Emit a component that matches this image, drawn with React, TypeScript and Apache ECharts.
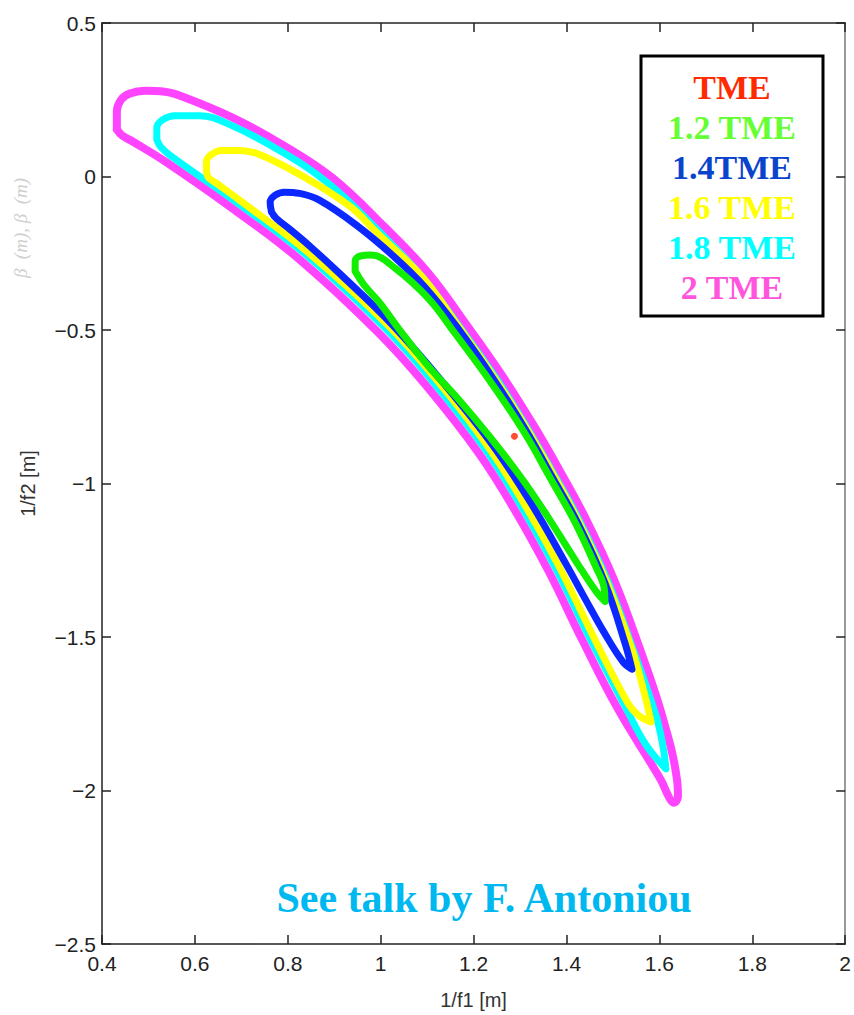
import React, { useEffect, useRef } from "react";
import * as echarts from "echarts";

const W = 854;
const H = 1015;

// axis ticks
const xTicks = [0.4, 0.6, 0.8, 1, 1.2, 1.4, 1.6, 1.8, 2];
const xTickLabels = ["0.4", "0.6", "0.8", "1", "1.2", "1.4", "1.6", "1.8", "2"];
const yTicks = [0.5, 0, -0.5, -1, -1.5, -2, -2.5];
const yTickLabels = ["0.5", "0", "\u22120.5", "\u22121", "\u22121.5", "\u22122", "\u22122.5"];

// legend labels & colours
const legendLabels = ["TME", "1.2 TME", "1.4TME", "1.6 TME", "1.8 TME", "2 TME"];
const legendColors = ["#ff2a00", "#66ff33", "#0a44cc", "#ffff00", "#00ffff", "#ff55dd"];

// contour at 2 TME (closed loop: 1/f1, 1/f2)
const contour2TME: number[][] = [
  [0.432, 0.153], [0.432, 0.211], [0.441, 0.25], [0.46, 0.27], [0.492, 0.279], [0.535, 0.276],
  [0.574, 0.26], [0.681, 0.192], [0.788, 0.104], [0.895, -0.003], [1.009, -0.165], [1.103, -0.315],
  [1.181, -0.475], [1.26, -0.645], [1.329, -0.81], [1.387, -0.962], [1.44, -1.11], [1.502, -1.312],
  [1.556, -1.53], [1.605, -1.751], [1.638, -1.965], [1.64, -2.02], [1.631, -2.04], [1.62, -2.02],
  [1.603, -1.965], [1.511, -1.735], [1.434, -1.51], [1.363, -1.29], [1.292, -1.095], [1.213, -0.905],
  [1.103, -0.69], [0.996, -0.51], [0.825, -0.27], [0.681, -0.104], [0.539, 0.046],
  [0.466, 0.114], [0.443, 0.134], [0.432, 0.153],
];

// contour at 1.8 TME
const contour18TME: number[][] = [
  [0.518, 0.121], [0.518, 0.159], [0.531, 0.185], [0.557, 0.198], [0.61, 0.198], [0.675, 0.169],
  [0.782, 0.085], [0.887, -0.022], [0.998, -0.181], [1.093, -0.334], [1.17, -0.49], [1.249, -0.658],
  [1.316, -0.82], [1.374, -0.972], [1.427, -1.118], [1.49, -1.322], [1.543, -1.538], [1.593, -1.757],
  [1.608, -1.858], [1.614, -1.929], [1.571, -1.851], [1.526, -1.725], [1.449, -1.5], [1.378, -1.28],
  [1.306, -1.083], [1.226, -0.89], [1.116, -0.675], [1.009, -0.493], [0.837, -0.252],
  [0.692, -0.087], [0.55, 0.065], [0.527, 0.095], [0.518, 0.121],
];

// contour at 1.6 TME
const contour16TME: number[][] = [
  [0.625, 0.017], [0.625, 0.049], [0.636, 0.072], [0.657, 0.085], [0.696, 0.085], [0.739, 0.072],
  [0.825, 0.007], [0.932, -0.095], [0.99, -0.18], [1.091, -0.33], [1.166, -0.485], [1.245, -0.655],
  [1.314, -0.82], [1.372, -0.972], [1.425, -1.12], [1.487, -1.322], [1.541, -1.54], [1.567, -1.679],
  [1.582, -1.777], [1.554, -1.754], [1.532, -1.715], [1.455, -1.49], [1.384, -1.27], [1.312, -1.074],
  [1.232, -0.882], [1.123, -0.667], [1.016, -0.485], [0.842, -0.245], [0.696, -0.077],
  [0.649, -0.025], [0.629, -0.003], [0.625, 0.017],
];

// contour at 1.4 TME
const contour14TME: number[][] = [
  [0.765, -0.116], [0.762, -0.084], [0.773, -0.061], [0.793, -0.051], [0.825, -0.055], [0.868, -0.077],
  [0.949, -0.16], [1.028, -0.26], [1.095, -0.36], [1.164, -0.49], [1.243, -0.66], [1.312, -0.825],
  [1.369, -0.978], [1.423, -1.125], [1.483, -1.325], [1.526, -1.52], [1.541, -1.605], [1.522, -1.582],
  [1.481, -1.485], [1.44, -1.375], [1.4, -1.265], [1.322, -1.06], [1.241, -0.875], [1.129, -0.662],
  [1.022, -0.478], [0.913, -0.318], [0.846, -0.225], [0.803, -0.17], [0.775, -0.136], [0.765, -0.116],
];

// contour at 1.2 TME
const contour12TME: number[][] = [
  [0.945, -0.308], [0.945, -0.275], [0.956, -0.259], [0.979, -0.256], [1.033, -0.301], [1.103, -0.398],
  [1.159, -0.509], [1.239, -0.674], [1.309, -0.833], [1.365, -0.982], [1.419, -1.128], [1.464, -1.274],
  [1.481, -1.339], [1.483, -1.384], [1.464, -1.352], [1.425, -1.264], [1.357, -1.102], [1.303, -0.982],
  [1.234, -0.846], [1.166, -0.723], [1.103, -0.619], [1.039, -0.496], [0.996, -0.408], [0.964, -0.353],
  [0.945, -0.308],
];

// nominal TME point
const pointTME: number[][] = [[1.288, -0.846]];

const contours = [
  { name: "2 TME", data: contour2TME, color: "#ff44ff", width: 8 },
  { name: "1.8 TME", data: contour18TME, color: "#00ffff", width: 7 },
  { name: "1.6 TME", data: contour16TME, color: "#ffff00", width: 7 },
  { name: "1.4TME", data: contour14TME, color: "#0a28ff", width: 7 },
  { name: "1.2 TME", data: contour12TME, color: "#11ee00", width: 7 },
];

function fmt(ticks: number[], labels: string[]) {
  return (v: number) => {
    const i = ticks.findIndex((t) => Math.abs(t - v) < 1e-6);
    return i >= 0 ? labels[i] : "";
  };
}

export default function App() {
  const ref = useRef<HTMLDivElement>(null);
  useEffect(() => {
    document.body.style.margin = "0";
    const chart = echarts.init(ref.current!, null, { renderer: "svg", width: W, height: H });
    const sans = '"Liberation Sans Narrow", "Liberation Sans", Arial, sans-serif';
    const axisFont = { fontFamily: sans, fontSize: 21, color: "#222" };
    const axisLine = { show: true, onZero: false, lineStyle: { color: "#222", width: 1.5 } };
    const tick = { show: true, inside: true, length: 9, lineStyle: { color: "#222", width: 1.5 } };
    const option: any = {
      animation: false,
      backgroundColor: "#fff",
      grid: { left: 102, top: 23, right: 6, bottom: 67, containLabel: false },
      xAxis: [
        {
          type: "value", min: 0.4, max: 2, interval: 0.2, position: "bottom",
          axisLine, axisTick: tick, splitLine: { show: false },
          axisLabel: { ...axisFont, margin: 9, formatter: fmt(xTicks, xTickLabels) },
          name: "1/f1 [m]", nameLocation: "middle", nameGap: 46,
          nameTextStyle: { fontFamily: sans, fontSize: 20, color: "#333" },
        },
        {
          type: "value", min: 0.4, max: 2, interval: 0.2, position: "top",
          axisLine, axisTick: tick, splitLine: { show: false }, axisLabel: { show: false },
        },
      ],
      yAxis: [
        {
          type: "value", min: -2.5, max: 0.5, interval: 0.5, position: "left",
          axisLine, axisTick: tick, splitLine: { show: false },
          axisLabel: { ...axisFont, margin: 6, formatter: fmt(yTicks, yTickLabels) },
          name: "1/f2 [m]", nameLocation: "middle", nameGap: 64, nameRotate: 90,
          nameTextStyle: { fontFamily: sans, fontSize: 20, color: "#333" },
        },
        {
          type: "value", min: -2.5, max: 0.5, interval: 0.5, position: "right",
          axisLine: { show: true, onZero: false, lineStyle: { color: "#777", width: 1.5 } },
          axisTick: tick, splitLine: { show: false }, axisLabel: { show: false },
        },
      ],
      series: [
        ...contours.map((c) => ({
          type: "line",
          name: c.name,
          data: c.data,
          xAxisIndex: 0,
          yAxisIndex: 0,
          showSymbol: false,
          smooth: 0.4,
          lineStyle: { color: c.color, width: c.width, cap: "round", join: "round" },
          silent: true,
        })),
        {
          type: "scatter",
          name: "TME",
          data: pointTME,
          symbolSize: 7,
          itemStyle: { color: "#ff2200" },
        },
      ],
      graphic: [
        {
          type: "text", x: 20, y: 228, rotation: Math.PI / 2,
          style: {
            text: "\u03b2  (m), \u03b2  (m)", fill: "#cfcfcf", fontSize: 19, fontStyle: "italic",
            fontFamily: '"Liberation Serif", serif', align: "center", verticalAlign: "middle",
          },
        },
        {
          type: "rect", shape: { x: 641, y: 56, width: 182, height: 260 },
          style: { fill: "#fff", stroke: "#000", lineWidth: 3 }, z: 100,
        },
        ...legendLabels.map((t, i) => ({
          type: "text", x: 732, y: 87 + i * 40, z: 101,
          style: {
            text: t, fill: legendColors[i], fontSize: 34, fontWeight: "bold",
            fontFamily: '"Liberation Serif", "DejaVu Serif", serif', align: "center", verticalAlign: "middle",
          },
        })),
        {
          type: "text", x: 484, y: 898, z: 101,
          style: {
            text: "See talk by F. Antoniou", fill: "#00b8f0", fontSize: 42, fontWeight: "bold",
            fontFamily: '"Liberation Serif", "DejaVu Serif", serif', align: "center", verticalAlign: "middle",
          },
        },
      ],
    };
    chart.setOption(option);
    return () => chart.dispose();
  }, []);
  return <div ref={ref} style={{ width: W, height: H, position: "absolute", left: 0, top: 0 }} />;
}
